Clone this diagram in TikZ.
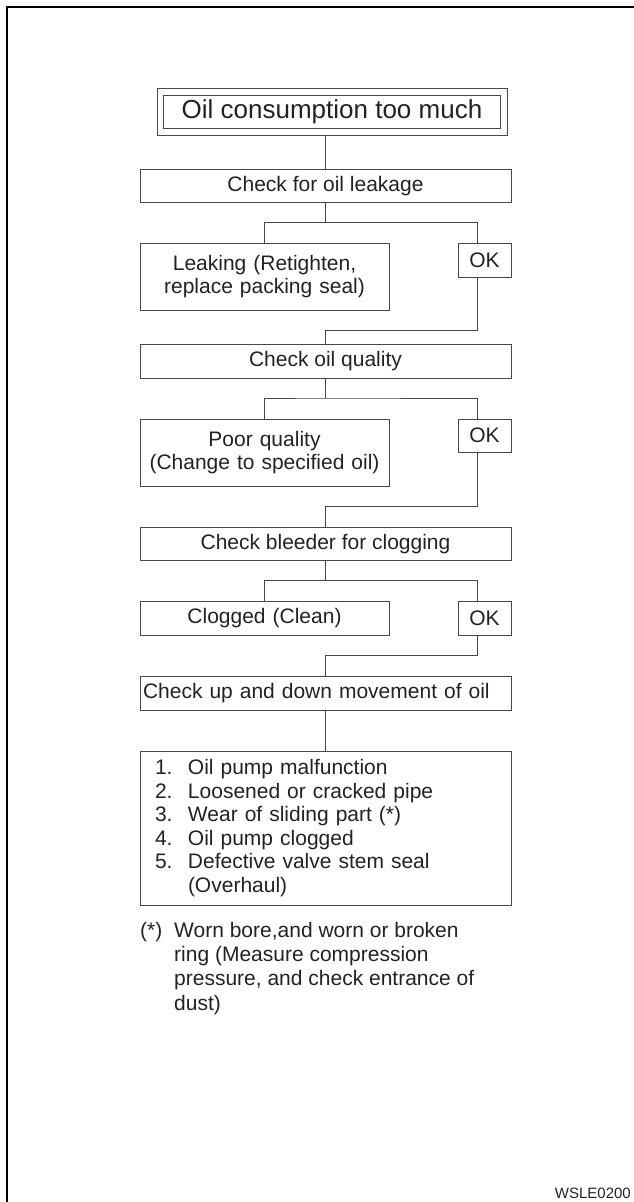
\documentclass[tikz,border=0pt]{standalone}
\usepackage{fontspec}
\setmainfont{Liberation Sans}
\usetikzlibrary{positioning,fit}
\definecolor{ink}{HTML}{222222}
\definecolor{rule}{HTML}{474747}
\tikzset{
  chkbox/.style={draw=rule, line width=0.8pt, minimum width=371pt, minimum height=33.5pt, inner sep=0pt, outer sep=0pt, text=ink, font=\fontsize{21}{23.6}\selectfont},
  faultbox/.style={draw=rule, line width=0.8pt, minimum width=249pt, text width=243pt, inner xsep=3pt, inner ysep=0pt, outer sep=0pt, align=center, text=ink, font=\fontsize{21}{23}\selectfont},
  okbox/.style={draw=rule, line width=0.8pt, minimum width=53pt, minimum height=33.5pt, inner sep=0pt, outer sep=0pt, text=ink, font=\fontsize{21}{23.6}\selectfont},
  wire/.style={draw=rule, line width=0.8pt},
  frameline/.style={draw=black, line width=2pt}
}

\begin{document}
\begin{tikzpicture}[x=1pt, y=1pt]
  \useasboundingbox (0,0) rectangle (634,1202);
  \draw[frameline] (634,1195) -- (7,1195) -- (7,0);

  \node[draw=rule, line width=0.8pt, minimum width=337pt, minimum height=33pt, inner sep=0pt, outer sep=0pt, text=ink, font=\fontsize{26}{30}\selectfont] (title) at (332,1090.5) {Oil consumption too much};
  \node[draw=rule, line width=0.8pt, fit=(title), inner xsep=6.5pt, inner ysep=7pt, outer sep=0pt] (titlebox) {};

  \node[chkbox, below=34pt of titlebox, xshift=-6.5pt] (chk1) {Check for oil leakage};
  \node[faultbox, minimum height=67pt, below right=41pt and 0pt of chk1.south west] (leak) {Leaking (Retighten,\\replace packing seal)};
  \node[okbox, below left=41pt and 0pt of chk1.south east] (ok1) {OK};

  \node[chkbox, below=142pt of chk1] (chk2) {Check oil quality};
  \node[faultbox, minimum height=67pt, below right=41pt and 0pt of chk2.south west] (poor) {Poor quality\\(Change to specified oil)};
  \node[okbox, below left=41pt and 0pt of chk2.south east] (ok2) {OK};

  \node[chkbox, below=149pt of chk2] (chk3) {Check bleeder for clogging};
  \node[faultbox, minimum height=33.5pt, below right=41pt and 0pt of chk3.south west] (clog) {Clogged (Clean)};
  \node[okbox, below left=41pt and 0pt of chk3.south east] (ok3) {OK};

  \node[chkbox, below=116pt of chk3, align=left, text width=365pt, inner xsep=3pt] (chk4) {Check up and down movement of oil};

  \node[draw=rule, line width=0.8pt, below=41pt of chk4, minimum width=371pt, minimum height=154pt, text width=341pt, inner xsep=15pt, inner ysep=0pt, outer sep=0pt, align=left, text=ink, font=\fontsize{21}{23.6}\selectfont] (list) {%
    \makebox[33pt][l]{1.}Oil pump malfunction\\
    \makebox[33pt][l]{2.}Loosened or cracked pipe\\
    \makebox[33pt][l]{3.}Wear of sliding part (*)\\
    \makebox[33pt][l]{4.}Oil pump clogged\\
    \makebox[33pt][l]{5.}Defective valve stem seal\\
    \hspace*{33pt}(Overhaul)};

  \node[below right=17pt and 0pt of list.south west, inner sep=0pt, align=left, text=ink, font=\fontsize{21}{24.2}\selectfont] (note) {%
    \makebox[34pt][l]{(*)}Worn bore,and worn or broken\\
    \hspace*{34pt}ring (Measure compression\\
    \hspace*{34pt}pressure, and check entrance of\\
    \hspace*{34pt}dust)};

  \node[anchor=south east, inner sep=0pt, text=ink, font=\fontsize{15}{15}\selectfont] (code) at (631,3) {WSLE0200};

  % main line and branches
  \draw[wire] (titlebox.south -| chk1.north) -- (chk1.north);
  \draw[wire] (chk1.south) -- ++(0,-20) coordinate (b1);
  \draw[wire] (leak.north) |- (b1) -| ([xshift=-7pt]ok1.north);
  \draw[wire] ([xshift=-7pt]ok1.south) |- ([yshift=14pt]chk2.north) -- (chk2.north);

  \draw[wire] (chk2.south) -- ++(0,-20) coordinate (b2);
  \draw[wire] (poor.north) |- (b2) -| ([xshift=-7pt]ok2.north);
  \draw[wire] ([xshift=-7pt]ok2.south) |- ([yshift=21pt]chk3.north) -- (chk3.north);

  \draw[wire] (chk3.south) -- ++(0,-20) coordinate (b3);
  \draw[wire] (clog.north) |- (b3) -| ([xshift=-7pt]ok3.north);
  \draw[wire] ([xshift=-7pt]ok3.south) |- ([yshift=21pt]chk4.north) -- (chk4.north);

  \draw[wire] (chk4.south) -- (list.north);
\end{tikzpicture}
\end{document}
